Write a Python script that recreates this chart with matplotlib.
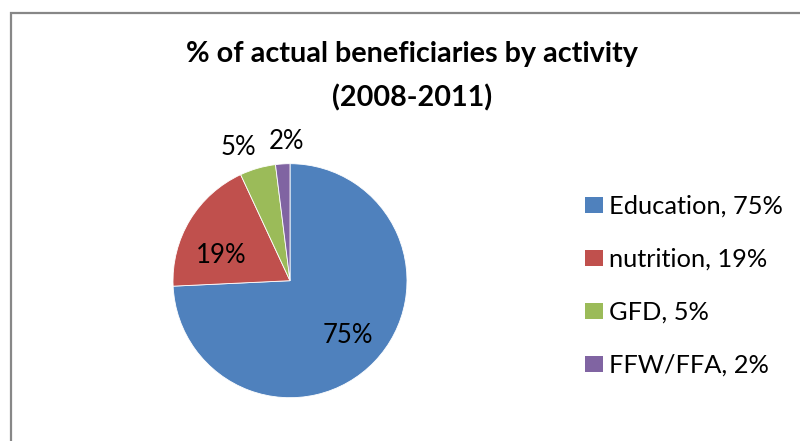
import numpy as np
import matplotlib
matplotlib.use("Agg")
import matplotlib.pyplot as plt
from matplotlib.patches import Rectangle

# Beneficiary shares by activity, 2008-2011 (percent)
categories = ["Education", "nutrition", "GFD", "FFW/FFA"]
shares = [75, 19, 5, 2]
colors = ["#4F81BD", "#C0504D", "#9BBB59", "#8064A2"]

# label placement: radial distance (in radii) and angular nudge (deg)
label_radius = [0.68, 0.63, 1.22, 1.19]
label_nudge = [0.5, 10.8, 5.3, -2.0]

FONT = "Lato"
W, H = 800, 441
fig = plt.figure(figsize=(W / 100, H / 100), dpi=100)
fig.patch.set_facecolor("white")

# chart-area frame (runs off the right and bottom edges)
fig.patches.append(Rectangle((10.5 / W, -0.1), 1.2, 1.1 - 12.5 / H,
                             transform=fig.transFigure, fill=False,
                             edgecolor="#878787", linewidth=1.6))

cx, cy, r = 290, 441 - 280.7, 117
ax = fig.add_axes([(cx - r) / W, (cy - r) / H, 2 * r / W, 2 * r / H])
wedges, _ = ax.pie(shares, colors=colors, startangle=90, counterclock=False,
                   radius=1.0, wedgeprops=dict(edgecolor="white", linewidth=0.6))
ax.set_xlim(-1, 1)
ax.set_ylim(-1, 1)
ax.set_aspect("equal")
ax.axis("off")

for w, val, rad, nud in zip(wedges, shares, label_radius, label_nudge):
    mid = np.deg2rad((w.theta1 + w.theta2) / 2 + nud)
    ax.text(rad * np.cos(mid), rad * np.sin(mid), f"{val}%",
            ha="center", va="center", fontsize=18.5, family=FONT,
            color="black", clip_on=False)

fig.text(412 / W, 1 - 54 / H, "% of actual beneficiaries by activity",
         ha="center", va="center", fontsize=20.7, fontweight="bold", family=FONT)
fig.text(412 / W, 1 - 98 / H, "(2008-2011)",
         ha="center", va="center", fontsize=20.7, fontweight="bold", family=FONT)

leg_labels = [f"{c}, {v}%" for c, v in zip(categories, shares)]
leg = fig.legend(wedges, leg_labels, loc="upper left",
                 bbox_to_anchor=(585 / W, 1 - 195 / H),
                 frameon=False, prop=dict(family=FONT, size=18.3),
                 handlelength=0.71, handleheight=0.59, handletextpad=0.24,
                 labelspacing=1.18, borderpad=0, borderaxespad=0)
for h in leg.legend_handles:
    h.set_edgecolor("none")

fig.savefig("out.png", dpi=100, facecolor="white")
